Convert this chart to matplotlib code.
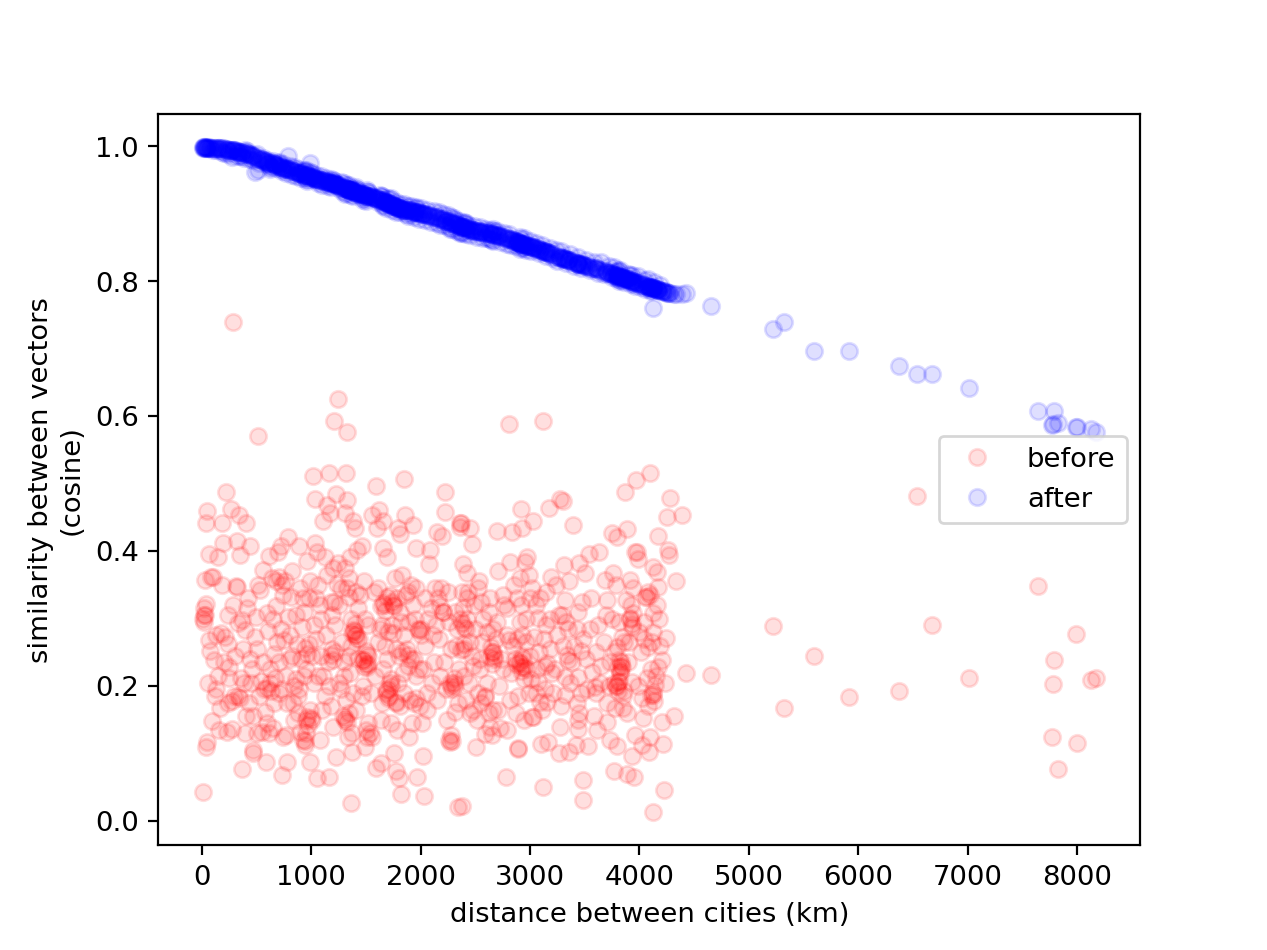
import matplotlib
matplotlib.use('Agg')
import matplotlib.pyplot as plt

# values, one line = one distance band
distances = [
    9, 37, 46, 37, 46, 64, 18, 12, 35, 28,
    146, 183, 192, 85, 72, 110, 92, 150, 130, 165,
    219, 265, 283, 210, 238, 250, 225, 290, 270, 245,
    338, 320, 347, 366, 402, 310, 330, 355, 390, 375,
    439, 466, 466, 512, 420, 445, 480, 505, 430, 490,
    585, 612, 560, 540, 600, 575, 530, 620, 550, 595,
    695, 722, 731, 660, 640, 700, 680, 650, 725, 670,
    786, 777, 760, 800, 830, 790, 770, 815, 840, 750,
    887, 960, 900, 870, 925, 890, 940, 910, 950, 880,
    1015, 1033, 1033, 1051, 1051, 987, 1000, 1010, 1025, 990,
    1106, 1124, 1143, 1161, 1170, 1161, 1065, 1090, 1120, 1075,
    1207, 1243, 1225, 1243, 1225, 1190, 1215, 1180, 1235, 1200,
    1325, 1316, 1325, 1307, 1380, 1399, 1353, 1362, 1371, 1335,
    1290, 1310, 1345, 1390, 1375, 1340, 1395, 1385, 1300, 1360,
    1417, 1462, 1490, 1490, 1554, 1590, 1600, 1618, 1590, 1636,
    1430, 1470, 1500, 1520, 1510, 1535, 1460, 1445, 1570, 1550,
    1654, 1691, 1654, 1680, 1700, 1710, 1665, 1720, 1690, 1640,
    1755, 1773, 1801, 1819, 1792, 1810, 1846, 1856, 1780, 1750,
    1760, 1740, 1770, 1830, 1800, 1725, 1785, 1815, 1745, 1835,
    1929, 1956, 1965, 2020, 2029, 2084, 2075, 2000, 1900, 1880,
    1870, 1920, 1950, 1985, 2010, 1895, 1940, 2040, 2060, 1975,
    2148, 2194, 2221, 2221, 2267, 2340, 2358, 2358, 2285, 2313,
    2110, 2130, 2175, 2200, 2240, 2260, 2300, 2320, 2280, 2160,
    2367, 2377, 2386, 2422, 2450, 2450, 2468, 2505, 2532, 2550,
    2400, 2420, 2480, 2520, 2560, 2440, 2500, 2390, 2470, 2540,
    2587, 2587, 2623, 2651, 2697, 2706, 2724, 2779, 2788, 2806,
    2815, 2815, 2834, 2625, 2650, 2670, 2640, 2690, 2750, 2720,
    2889, 2889, 2916, 2925, 2943, 2953, 2971, 2989, 2989, 2860,
    2870, 2900, 2915, 2880, 2930, 2850, 2890, 2960, 2940, 2910,
    3026, 3026, 3071, 3071, 3090, 3099, 3117, 3117, 3153, 3153,
    3163, 3172, 3190, 3199, 3040, 3060, 3130, 3000, 3020, 3140,
    3263, 3272, 3272, 3291, 3300, 3309, 3318, 3318, 3318, 3336,
    3345, 3355, 3355, 3391, 3419, 3428, 3437, 3437, 3437, 3446,
    3464, 3473, 3483, 3483, 3501, 3528, 3538, 3565, 3592, 3601,
    3611, 3629, 3684, 3702, 3702, 3702, 3730, 3748, 3757, 3766,
    3775, 3793, 3793, 3793, 3802, 3840, 3848, 3840, 3820, 3830,
    3793, 3857, 3867, 3876, 3885, 3885, 3912, 3912, 3931, 3931,
    3931, 3949, 3958, 3967, 3976, 3995, 4022, 4022, 4031, 4068,
    4068, 4077, 4086, 4095, 4095, 4095, 4122, 4122, 4122, 4122,
    4122, 4141, 4159, 4159, 4168, 4168, 4168, 4205, 4205, 4214,
    4223, 4241, 4250, 4260, 4269, 4278, 4314, 4333, 4388, 4122,
    4424, 4653, 5220, 5320, 5594, 5914, 6371, 6536, 6673, 7011,
    7642, 7788, 7779, 7770, 7824, 7989, 7998, 8126, 8172,
    # denser parts of the cloud
    27, 15, 22, 100, 183, 320, 366, 393, 60, 125,
    170, 205, 235, 275, 300, 345, 380, 410, 440, 470,
    500, 525, 555, 590, 620, 590, 630, 645, 675, 705,
    700, 730, 735, 745, 765, 805, 825, 845, 860, 875,
    925, 955, 945, 945, 975, 960, 960, 985, 969, 950,
    905, 935, 1005, 1040, 1060, 1085, 1100, 1135, 1150, 1175,
    1175, 1200, 1188, 1210, 1255, 1270, 1280, 1295, 1315, 1330,
    1310, 1340, 1325, 1385, 1410, 1395, 1420, 1350, 1365, 1410,
    1470, 1505, 1485, 1515, 1495, 1495, 1520, 1510, 1425, 1475,
    1655, 1690, 1670, 1640, 1685, 1715, 1700, 1725, 1655, 1625,
    1775, 1810, 1605, 1650, 1735, 1775, 1810, 1845, 1865, 1885,
    1885, 1915, 1935, 1960, 1980, 2005, 1915, 1960, 2035, 2055,
    2090, 2120, 2145, 2170, 2180, 2205, 2215, 2245, 2255, 2280,
    2270, 2300, 2285, 2310, 2330, 2350, 2365, 2392, 2375, 2400,
    2360, 2410, 2410, 2435, 2455, 2490, 2515, 2545, 2570, 2587,
    2635, 2665, 2650, 2670, 2605, 2635, 2665, 2700, 2735, 2765,
    2785, 2810, 2905, 2940, 2925, 2915, 2935, 2830, 2870, 2905,
    2965, 2995, 3010, 3050, 3080, 3110, 3145, 3180, 3210, 3235,
    3250, 3280, 3325, 3365, 3400, 3440, 3470, 3510, 3545, 3580,
    3620, 3650, 3675, 3720, 3745, 3770, 3790, 3805, 3835, 3820,
    3815, 3790, 3815, 3805, 3860, 3895, 3925, 3915, 3945, 3930,
    3960, 3990, 4055, 4080, 4110, 4135, 4010, 4045, 4105, 4190,
    55, 120, 155, 240, 285, 330, 405, 455, 515, 565,
    610, 655, 690, 740, 780, 820, 855, 895, 930, 975,
    1020, 1045, 1080, 1110, 1145, 1165, 1195, 1220, 1250, 1275,
    1305, 1345, 1370, 1405, 1440, 1480, 1515, 1545, 1580, 1610,
    1645, 1670, 1705, 1730, 1765, 1795, 1825, 1850, 1890, 1925,
    1955, 1990, 2025, 2065, 2100, 2140, 2185, 2230, 2275, 2310,
    2345, 2395, 2425, 2475, 2525, 2555, 2610, 2660, 2710, 2755,
    2790, 2840, 2880, 2920, 2975, 3015, 3055, 3095, 3135, 3185,
    3225, 3260, 3305, 3350, 3385, 3425, 3480, 3520, 3555, 3600,
    3640, 3690, 3735, 3765, 3810, 3850, 3900, 3945, 3990, 4040,
    4075, 4115, 4150, 4180, 4235, 3890, 3450, 3150, 2630, 2380,
]

before = [
    .043, .110, .117, .442, .460, .396, .305, .300, .322, .357,
    .392, .441, .412, .362, .252, .238, .148, .215, .195, .168,
    .488, .463, .739, .272, .305, .212, .132, .186, .136, .228,
    .454, .415, .395, .077, .442, .349, .293, .212, .130, .255,
    .408, .101, .105, .570, .330, .205, .272, .130, .175, .302,
    .088, .393, .372, .208, .282, .162, .342, .225, .132, .308,
    .399, .407, .068, .248, .360, .190, .318, .138, .285, .212,
    .421, .088, .355, .240, .175, .302, .128, .332, .200, .268,
    .408, .386, .132, .262, .330, .195, .118, .288, .225, .160,
    .512, .478, .412, .398, .064, .088, .152, .150, .290, .355,
    .444, .392, .469, .516, .457, .065, .350, .245, .185, .120,
    .593, .626, .485, .383, .095, .305, .250, .170, .352, .140,
    .577, .516, .476, .457, .444, .435, .392, .027, .102, .125,
    .155, .150, .332, .282, .278, .245, .275, .190, .215, .300,
    .402, .407, .110, .300, .454, .497, .435, .461, .079, .086,
    .242, .238, .232, .245, .228, .130, .185, .335, .340, .125,
    .444, .392, .405, .190, .195, .185, .320, .335, .240, .150,
    .101, .074, .064, .040, .435, .426, .507, .454, .330, .320,
    .318, .325, .175, .250, .245, .210, .135, .295, .278, .220,
    .439, .405, .065, .096, .037, .402, .381, .285, .180, .340,
    .255, .145, .300, .225, .145, .125, .240, .330, .190, .285,
    .429, .423, .488, .458, .117, .021, .442, .436, .119, .162,
    .275, .345, .215, .310, .150, .295, .205, .260, .200, .330,
    .442, .022, .381, .368, .435, .160, .411, .110, .356, .325,
    .255, .300, .230, .190, .265, .205, .285, .315, .245, .225,
    .129, .184, .160, .128, .430, .371, .138, .065, .135, .588,
    .384, .180, .429, .310, .250, .245, .258, .270, .335, .200,
    .108, .106, .463, .435, .150, .384, .392, .190, .365, .240,
    .232, .235, .228, .330, .275, .350, .185, .300, .210, .360,
    .445, .154, .301, .206, .177, .114, .593, .050, .234, .177,
    .117, .464, .362, .220, .272, .225, .270, .245, .154, .195,
    .101, .478, .140, .305, .475, .380, .328, .214, .187, .246,
    .239, .355, .102, .439, .113, .175, .214, .150, .136, .383,
    .252, .325, .061, .031, .368, .111, .396, .221, .199, .190,
    .135, .399, .357, .328, .175, .147, .120, .427, .368, .074,
    .168, .421, .258, .111, .206, .273, .168, .228, .222, .230,
    .200, .192, .488, .328, .433, .070, .357, .301, .288, .206,
    .096, .065, .128, .505, .398, .280, .182, .113, .153, .332,
    .212, .258, .102, .516, .335, .125, .377, .308, .280, .187,
    .190, .202, .369, .320, .423, .347, .228, .239, .147, .114,
    .046, .271, .450, .402, .395, .479, .156, .356, .454, .013,
    .220, .217, .289, .168, .245, .184, .193, .481, .291, .212,
    .349, .239, .203, .125, .077, .277, .116, .209, .212,
    # denser parts of the cloud
    .306, .315, .295, .362, .350, .347, .298, .283, .268, .275,
    .278, .235, .262, .178, .245, .182, .205, .315, .240, .155,
    .255, .185, .235, .197, .205, .145, .192, .300, .355, .235,
    .362, .350, .195, .335, .215, .275, .245, .150, .305, .185,
    .120, .130, .112, .257, .262, .248, .154, .165, .143, .150,
    .240, .310, .245, .330, .215, .300, .165, .275, .235, .325,
    .246, .238, .255, .325, .205, .345, .265, .235, .180, .345,
    .153, .160, .146, .283, .275, .292, .270, .220, .260, .165,
    .239, .248, .228, .232, .252, .135, .145, .125, .315, .200,
    .323, .332, .312, .318, .194, .205, .183, .200, .225, .285,
    .177, .170, .265, .175, .290, .255, .310, .190, .335, .230,
    .246, .240, .175, .182, .283, .275, .350, .215, .260, .165,
    .315, .235, .180, .270, .318, .310, .235, .340, .120, .128,
    .205, .212, .195, .200, .285, .225, .254, .262, .294, .288,
    .300, .285, .180, .340, .265, .320, .150, .240, .300, .186,
    .243, .250, .233, .240, .205, .330, .165, .295, .240, .320,
    .276, .268, .234, .228, .245, .222, .240, .220, .160, .295,
    .265, .330, .210, .320, .250, .165, .290, .255, .190, .350,
    .275, .170, .295, .205, .260, .310, .190, .240, .285, .155,
    .290, .230, .265, .200, .300, .250, .350, .228, .235, .220,
    .238, .200, .208, .192, .265, .235, .320, .300, .308, .292,
    .398, .388, .332, .340, .187, .178, .250, .295, .225, .260,
    .205, .185, .135, .175, .320, .185, .155, .225, .350, .195,
    .130, .175, .265, .125, .175, .370, .210, .345, .215, .330,
    .205, .270, .320, .215, .365, .200, .375, .290, .320, .195,
    .375, .360, .130, .340, .270, .355, .290, .190, .215, .345,
    .290, .260, .280, .145, .360, .205, .365, .275, .295, .320,
    .345, .170, .225, .300, .205, .290, .345, .195, .255, .310,
    .175, .215, .330, .165, .345, .175, .280, .285, .165, .225,
    .315, .260, .270, .320, .225, .345, .190, .330, .230, .300,
    .225, .305, .260, .285, .235, .285, .270, .195, .330, .250,
    .205, .305, .235, .205, .295, .185, .265, .345, .200, .270,
    .170, .265, .215, .300, .205, .160, .160, .340, .140, .340,
]

after = [
    .998, .999, .998, .998, .999, .998, .999, .999, .998, .999,
    .997, .997, .997, .998, .998, .997, .998, .997, .997, .997,
    .996, .995, .994, .996, .995, .992, .996, .994, .995, .995,
    .992, .993, .991, .990, .990, .993, .992, .991, .989, .991,
    .988, .986, .987, .965, .988, .987, .962, .983, .988, .984,
    .979, .976, .980, .981, .977, .978, .981, .966, .980, .975,
    .972, .969, .970, .974, .975, .971, .973, .975, .970, .974,
    .985, .967, .967, .966, .964, .967, .968, .965, .963, .968,
    .961, .957, .960, .962, .958, .961, .958, .959, .957, .961,
    .955, .952, .953, .951, .950, .975, .955, .954, .953, .956,
    .950, .948, .948, .947, .946, .947, .951, .950, .948, .950,
    .945, .943, .944, .942, .943, .946, .944, .946, .943, .945,
    .937, .938, .937, .939, .934, .932, .936, .935, .935, .937,
    .939, .938, .936, .933, .934, .936, .932, .933, .939, .935,
    .931, .929, .928, .927, .925, .923, .922, .921, .924, .920,
    .931, .929, .928, .926, .927, .926, .929, .930, .924, .925,
    .919, .916, .920, .917, .916, .915, .918, .914, .917, .920,
    .912, .910, .908, .907, .909, .908, .905, .905, .911, .912,
    .911, .913, .910, .906, .908, .914, .910, .907, .912, .906,
    .904, .902, .902, .900, .900, .897, .898, .901, .905, .906,
    .906, .904, .903, .901, .900, .905, .903, .899, .898, .902,
    .895, .892, .890, .889, .888, .884, .882, .882, .886, .885,
    .896, .895, .893, .892, .890, .889, .886, .885, .887, .894,
    .881, .881, .880, .878, .877, .876, .875, .875, .873, .873,
    .880, .879, .876, .874, .873, .878, .875, .880, .876, .874,
    .872, .873, .871, .870, .868, .867, .867, .864, .864, .862,
    .862, .862, .861, .871, .870, .869, .870, .868, .865, .867,
    .858, .858, .856, .856, .855, .854, .853, .852, .852, .860,
    .859, .857, .856, .858, .855, .860, .858, .854, .855, .857,
    .851, .851, .848, .848, .846, .846, .845, .845, .843, .843,
    .842, .842, .841, .840, .850, .849, .845, .852, .851, .844,
    .836, .835, .836, .834, .834, .833, .833, .834, .833, .832,
    .832, .831, .831, .829, .827, .827, .826, .826, .827, .825,
    .825, .825, .824, .824, .823, .822, .821, .820, .819, .819,
    .818, .817, .815, .813, .814, .813, .812, .811, .811, .810,
    .809, .809, .808, .809, .808, .806, .805, .806, .807, .806,
    .808, .805, .804, .804, .803, .803, .802, .801, .800, .800,
    .801, .799, .799, .798, .798, .797, .795, .796, .795, .793,
    .793, .792, .792, .791, .791, .792, .790, .790, .791, .761,
    .790, .789, .788, .788, .787, .787, .787, .785, .786, .785,
    .784, .784, .783, .783, .782, .782, .781, .781, .781, .790,
    .782, .764, .729, .740, .697, .697, .675, .662, .662, .642,
    .608, .607, .589, .587, .590, .584, .584, .581, .576,
    # denser parts of the cloud
    .998, .999, .998, .994, .992, .985, .985, .994, .999, .994,
    .995, .990, .988, .984, .995, .986, .983, .993, .981, .980,
    .988, .975, .983, .974, .971, .980, .970, .978, .968, .977,
    .975, .966, .963, .974, .960, .971, .958, .970, .956, .966,
    .962, .952, .955, .964, .951, .958, .949, .962, .956, .965,
    .953, .965, .961, .958, .945, .956, .943, .953, .941, .951,
    .940, .950, .944, .949, .938, .947, .934, .945, .931, .943,
    .929, .942, .937, .927, .940, .935, .930, .939, .928, .937,
    .921, .935, .928, .933, .924, .919, .932, .926, .936, .923,
    .911, .924, .918, .926, .909, .922, .915, .924, .913, .928,
    .902, .915, .917, .926, .906, .918, .903, .914, .900, .912,
    .897, .912, .895, .910, .893, .908, .899, .909, .891, .906,
    .888, .904, .886, .902, .884, .900, .883, .898, .880, .896,
    .878, .894, .877, .891, .875, .889, .873, .888, .871, .887,
    .872, .886, .870, .884, .869, .882, .866, .880, .864, .878,
    .863, .877, .861, .875, .864, .876, .860, .874, .858, .872,
    .856, .870, .848, .864, .851, .862, .849, .854, .853, .865,
    .846, .860, .845, .857, .842, .854, .838, .850, .835, .847,
    .830, .845, .827, .840, .823, .836, .820, .832, .817, .829,
    .813, .828, .811, .823, .806, .821, .805, .817, .802, .816,
    .803, .814, .801, .815, .799, .811, .796, .810, .797, .809,
    .793, .808, .789, .803, .786, .799, .792, .802, .787, .795,
    .998, .997, .997, .995, .994, .992, .990, .986, .981, .979,
    .976, .974, .971, .968, .966, .964, .962, .960, .957, .955,
    .953, .951, .950, .948, .947, .946, .945, .944, .942, .940,
    .939, .936, .935, .932, .931, .929, .927, .926, .924, .922,
    .920, .918, .916, .914, .912, .909, .908, .906, .905, .903,
    .902, .901, .900, .898, .897, .895, .893, .890, .887, .885,
    .883, .880, .879, .876, .874, .873, .872, .870, .868, .865,
    .863, .861, .858, .856, .853, .851, .849, .847, .845, .842,
    .838, .836, .834, .831, .830, .827, .824, .823, .820, .819,
    .817, .815, .812, .810, .807, .805, .803, .800, .797, .794,
    .792, .790, .788, .787, .785, .803, .826, .843, .871, .881,
]

fig, ax = plt.subplots(figsize=(6.4, 4.8))
ax.plot(distances, before, 'o', color='red', alpha=0.125, label='before')
ax.plot(distances, after, 'o', color='blue', alpha=0.125, label='after')
ax.set_xlabel('distance between cities (km)')
ax.set_ylabel('similarity between vectors\n(cosine)')
ax.legend(loc='center right')
fig.savefig('out.png', dpi=197.97)
